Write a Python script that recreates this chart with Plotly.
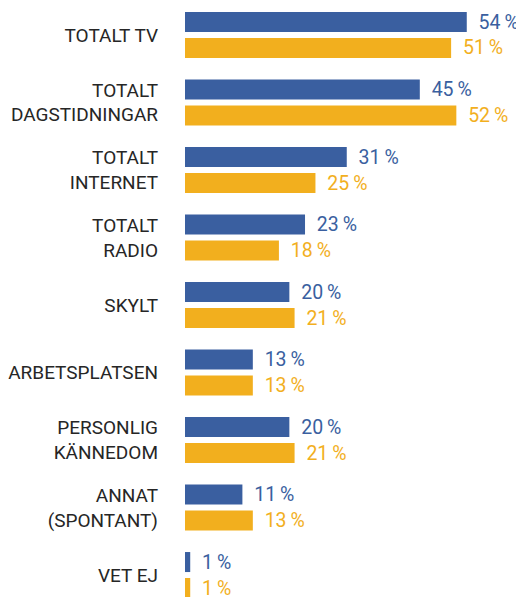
import plotly.graph_objects as go

categories = ["TOTALT TV", "TOTALT<br>DAGSTIDNINGAR", "TOTALT<br>INTERNET", "TOTALT<br>RADIO",
              "SKYLT", "ARBETSPLATSEN", "PERSONLIG<br>KÄNNEDOM", "ANNAT<br>(SPONTANT)", "VET EJ"]
series_a = [54, 45, 31, 23, 20, 13, 20, 11, 1]
series_b = [51, 52, 25, 18, 21, 13, 21, 13, 1]

BLUE = "#3A5FA0"
YELLOW = "#F2AF1E"
FONT = "Roboto"

fig = go.Figure()
for vals, col in [(series_a, BLUE), (series_b, YELLOW)]:
    fig.add_trace(go.Bar(
        y=categories, x=vals, orientation="h",
        marker=dict(color=col, line=dict(width=0)),
        texttemplate="\u00a0\u2009%{x}\u2009%", textposition="outside",
        textfont=dict(color=col, size=19.5, family=FONT, weight=400),
        cliponaxis=False, constraintext="none", showlegend=False,
    ))

fig.update_layout(
    width=524, height=597,
    margin=dict(l=177, r=0, t=0, b=0),
    barmode="group", bargap=0.23, bargroupgap=0.23,
    plot_bgcolor="white", paper_bgcolor="white",
    font=dict(family=FONT, size=19, color="#222222"),
)
fig.update_xaxes(range=[0, 66.5], visible=False, showgrid=False, zeroline=False)
fig.update_yaxes(type="category", categoryorder="array", categoryarray=categories,
                 range=[8.444, -0.4], showgrid=False, zeroline=False, showline=False,
                 ticks="", ticklabelstandoff=26,
                 tickfont=dict(family=FONT, size=19, color="#262626", weight=400))

fig.write_html("out.html")
